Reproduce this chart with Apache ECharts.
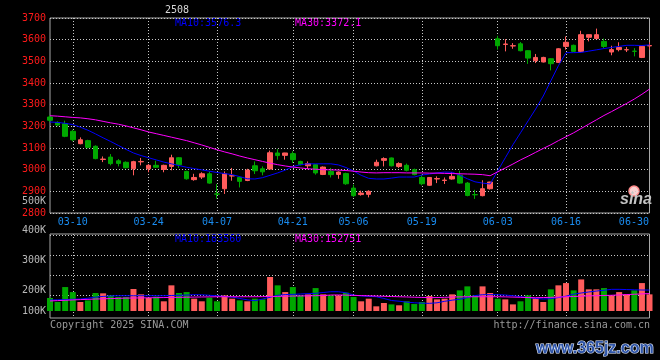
<!DOCTYPE html>
<html><head><meta charset="utf-8">
<script src="https://cdn.jsdelivr.net/npm/echarts@6/dist/echarts.min.js"></script>
<style>html,body{margin:0;padding:0;background:#000}#c{width:660px;height:360px}</style>
</head><body><div id="c"></div>
<script>
const categories = ['03-05','03-06','03-07','03-10','03-11','03-12','03-13','03-14','03-17','03-18','03-19','03-20','03-21','03-24','03-25','03-26','03-27','03-28','03-31',
'04-01','04-02','04-03','04-07','04-08','04-09','04-10','04-11','04-14','04-15','04-16','04-17','04-18','04-21','04-22','04-23','04-24','04-25','04-28','04-29','04-30',
'05-06','05-07','05-08','05-09','05-12','05-13','05-14','05-15','05-16','05-19','05-20','05-21','05-22','05-23','05-26','05-27','05-28','05-29','05-30',
'06-03','06-04','06-05','06-06','06-09','06-10','06-11','06-12','06-13','06-16','06-17','06-18','06-19','06-20','06-23','06-24','06-25','06-26','06-27','06-30','07-01'];
const tickLabels = ['03-10','03-24','04-07','04-21','05-06','05-19','06-03','06-16','06-30'];
const openPrices = [3243,3218,3212,3177,3120,3134,3108,3047,3058,3041, 3034,3004,3036,3004,3020,3001,3015,3055,2992,2954,
2966,2981,2888,2912,2971,2964,2950,3018,3004,3003, 3077,3066,3074,3038,3018,3023,2978,2992,2978,2982,
2915,2885,2886,3018,3043,3054,3015,3020,3000,2964, 2928,2957,2950,2957,2974,2938,2885,2880,2912,3604,
3578,3571,3581,3549,3503,3497,3512,3495,3569,3574, 3546,3611,3605,3592,3543,3554,3553,3547,3518,3571];
const closePrices = [3228,3206,3154,3138,3138,3103,3051,3049,3028,3029, 3009,3037,3038,3020,3011,3020,3055,3023,2958,2964,
2981,2938,2887,2981,2972,2946,2998,2995,2990,3078, 3065,3077,3046,3023,3028,2985,3012,2977,2989,2935,
2880,2892,2900,3034,3051,3018,3028,2997,2977,2935, 2964,2959,2952,2969,2938,2881,2884,2912,2943,3572,
3580,3572,3549,3515,3518,3518,3489,3558,3588,3546, 3623,3623,3623,3569,3554,3564,3554,3546,3569,3573];
const lowPrices = [3222,3200,3150,3131,3117,3098,3048,3035,3020,3015, 3006,2974,3020,2988,3008,2988,2997,3008,2954,2949,
2957,2935,2866,2888,2949,2918,2947,2980,2974,3000, 3046,3046,3031,3020,3003,2977,2975,2964,2958,2930,
2874,2880,2872,3015,3015,3015,3008,2992,2974,2928, 2925,2938,2934,2954,2935,2877,2865,2877,2908,3554,
3546,3558,3546,3488,3492,3495,3458,3492,3554,3544, 3543,3592,3604,3561,3528,3546,3543,3523,3515,3554];
const highPrices = [3250,3223,3226,3184,3149,3138,3112,3061,3072,3049, 3038,3041,3054,3026,3041,3023,3069,3058,2995,2981,
2988,2992,2934,2992,3008,2969,3004,3038,3015,3088, 3095,3078,3085,3041,3038,3026,3015,3008,2992,2986,
2931,2903,2905,3046,3057,3056,3034,3028,3005,2977, 2966,2969,2964,2989,2995,2943,2907,2951,2944,3618,
3603,3584,3589,3551,3534,3521,3514,3561,3615,3577, 3641,3624,3651,3605,3572,3588,3566,3561,3570,3588];
const ma10Price = [3220,3218,3214,3208,3196,3182,3165,3147,3130,3112, 3094,3077,3065,3055,3045,3035,3027,3019,3011,3005,
2999,2993,2987,2982,2977,2968,2958,2957,2963,2974, 2985,2998,3014,3023,3027,3027,3027,3027,3022,3010,
2994,2974,2960,2957,2957,2961,2966,2966,2966,2975, 2980,2985,2989,2988,2975,2958,2944,2938,2934,2995,
3055,3115,3170,3225,3280,3340,3410,3480,3540,3540, 3541,3547,3553,3559,3564,3569,3574,3574,3573,3576];
const ma30Price = [3249,3247,3244,3241,3239,3235,3230,3223,3216,3210, 3202,3193,3184,3174,3166,3158,3150,3142,3134,3124,
3114,3103,3092,3082,3073,3063,3054,3046,3038,3030, 3023,3017,3012,3008,3004,3002,3000,2999,2998,2996,
2993,2989,2986,2985,2986,2986,2986,2985,2985,2985, 2984,2984,2983,2982,2981,2980,2979,2977,2972,2990,
3008,3026,3045,3062,3080,3098,3115,3134,3152,3170, 3190,3210,3230,3250,3268,3287,3306,3326,3348,3372];
// volumes in thousands
const volumes = [114,79,210,166,79,93,158,155,137,123, 123,193,146,114,126,85,225,158,166,108,
85,117,85,137,108,93,85,108,102,298, 225,166,210,137,146,201,146,137,137,161,
123,85,108,41,70,58,50,85,61,79, 131,102,108,146,181,216,137,216,158,108,
102,58,85,137,114,79,190,225,245,181, 277,190,190,201,137,166,146,181,245,146];
const ma10Vol = [96,98,100,103,105,112,122,128,132,134, 134,134,134,134,134,134,136,138,140,143,
142,138,133,128,122,110,98,90,105,120, 138,144,146,149,152,155,162,169,169,160,
140,132,128,125,110,92,86,78,72,69, 67,72,85,95,103,118,135,143,143,143,
140,134,126,117,110,105,108,118,130,148, 158,167,175,182,190,190,188,186,184,184];
const ma30Vol = [88,91,94,97,100,102,105,107,109,111, 113,114,115,116,117,118,119,120,121,122,
123,124,125,125,125,125,125,125,126,127, 128,130,131,132,133,134,136,140,141,139,
137,135,133,131,129,127,125,123,121,119, 117,118,120,122,124,125,125,125,125,125,
124,122,120,118,117,118,120,122,125,127, 130,133,134,136,138,141,144,147,150,153];
const volTickLabels = ['500K','400K','300K','200K','100K'];
const priceMaLabels = ['MA10:3576.3','MA30:3372.1'];
const volMaLabels = ['MA10:183560','MA30:152751'];
const titleText = '2508';

const FONT = 'DejaVu Sans Mono';
const UP = '#ff5c5c', DOWN = '#00a800';
const dotted = {color:'#c8c8c8', width:1, type:[1,2]};
const gridDates = tickLabels.slice(0, -1);
const lastLabel = tickLabels[tickLabels.length - 1];

const candleData = categories.map((_, i) => [openPrices[i], closePrices[i], lowPrices[i], highPrices[i]]);
const volData = volumes.map((v, i) => ({value: v, itemStyle: {color: closePrices[i] >= openPrices[i] ? UP : DOWN}}));

function txt(text, x, y, fill, align, font) {
  return {type:'text', x:x, y:y, silent:true, style:{text:text, fill:fill, font: font || ('10px ' + FONT),
    textAlign: align || 'left', textVerticalAlign:'middle', align: align || 'left', verticalAlign:'middle'}};
}
const volLabelY = [201, 230, 260, 290, 311];
const graphics = [
  txt(titleText, 165, 10, '#d8d8d8'),
  txt(priceMaLabels[0], 175, 23, '#0000ff'),
  txt(priceMaLabels[1], 295, 23, '#ff00ff'),
  txt(volMaLabels[0], 175, 239, '#0000ff'),
  txt(volMaLabels[1], 295, 239, '#ff00ff'),
  txt('Copyright 2025 SINA.COM', 50, 325, '#9a9a9a'),
  txt('http://finance.sina.com.cn', 650, 325, '#9a9a9a', 'right'),
  {type:'circle', silent:true, shape:{cx:634, cy:191, r:5}, style:{fill:'#f8d0d0', stroke:'#ff8a8a', lineWidth:1.5}},
  txt('sina', 620, 200, '#c4c4c4', 'left', 'italic bold 16px "Liberation Sans"'),
  {type:'text', silent:true, x:536, y:349, style:{text:'www.365jz.com', fill:'#2f55a8', stroke:'#e6eeff', lineWidth:1.2,
    font:'bold 16px "Liberation Sans"', textAlign:'left', textVerticalAlign:'middle', align:'left', verticalAlign:'middle'}}
].concat(volTickLabels.map((t, k) => txt(t, 46, volLabelY[k], '#b8b8b8', 'right')));

const chart = echarts.init(document.getElementById('c'), null, {renderer:'canvas'});
chart.setOption({
  backgroundColor:'#000',
  animation:false,
  grid:[
    {left:50, top:18, width:599.5, height:195, show:true, borderColor:'#a8a8a8', borderWidth:1, backgroundColor:'transparent'},
    {left:50, top:234, width:599.5, height:84, show:true, borderColor:'#a8a8a8', borderWidth:1, backgroundColor:'transparent'},
    {left:50, top:235, width:599.5, height:60, show:false}
  ],
  xAxis:[
    {gridIndex:0, type:'category', data:categories, boundaryGap:false,
     axisLine:{show:false}, axisTick:{show:false},
     axisLabel:{interval:(i, v) => tickLabels.includes(v), color:'#1a8cf0', fontFamily:FONT, fontSize:10, margin:4,
       formatter:(v) => v === lastLabel ? '{e|' + v + '}' : v,
       rich:{e:{color:'#1a8cf0', fontFamily:FONT, fontSize:10, padding:[0,16,0,0]}}},
     splitLine:{show:true, interval:(i, v) => gridDates.includes(v), lineStyle:dotted}},
    {gridIndex:1, type:'category', data:categories, boundaryGap:false,
     axisLine:{show:false}, axisTick:{show:false}, axisLabel:{show:false},
     splitLine:{show:true, interval:(i, v) => gridDates.includes(v), lineStyle:dotted}},
    {gridIndex:2, type:'value', min:0, max:1, show:false}
  ],
  yAxis:[
    {gridIndex:0, type:'value', min:2800, max:3700, interval:100,
     axisLine:{show:false}, axisTick:{show:false},
     axisLabel:{color:'#ff1a1a', fontFamily:FONT, fontSize:10, margin:4, formatter:(v) => String(v)},
     splitLine:{show:true, lineStyle:dotted}},
    {gridIndex:1, type:'value', min:-61.4, max:675.4, show:false, splitLine:{show:false}},
    {gridIndex:2, type:'value', min:0, max:60, interval:20,
     axisLine:{show:false}, axisTick:{show:false}, axisLabel:{show:false},
     splitLine:{show:true, lineStyle:dotted}}
  ],
  series:[
    {type:'candlestick', xAxisIndex:0, yAxisIndex:0, data:candleData, barWidth:5, clip:true,
     itemStyle:{color:UP, color0:DOWN, borderColor:UP, borderColor0:DOWN, borderWidth:1}},
    {type:'line', xAxisIndex:0, yAxisIndex:0, data:ma10Price, symbol:'none', clip:true,
     lineStyle:{color:'#0000ff', width:1}, itemStyle:{color:'#0000ff'}},
    {type:'line', xAxisIndex:0, yAxisIndex:0, data:ma30Price, symbol:'none', clip:true,
     lineStyle:{color:'#ff00ff', width:1}, itemStyle:{color:'#ff00ff'}},
    {type:'bar', xAxisIndex:1, yAxisIndex:1, data:volData, barWidth:6, clip:true},
    {type:'line', xAxisIndex:1, yAxisIndex:1, data:ma10Vol, symbol:'none', clip:true,
     lineStyle:{color:'#0000ff', width:1}, itemStyle:{color:'#0000ff'}},
    {type:'line', xAxisIndex:1, yAxisIndex:1, data:ma30Vol, symbol:'none', clip:true,
     lineStyle:{color:'#ff00ff', width:1}, itemStyle:{color:'#ff00ff'}}
  ],
  graphic:graphics
});
</script></body></html>
